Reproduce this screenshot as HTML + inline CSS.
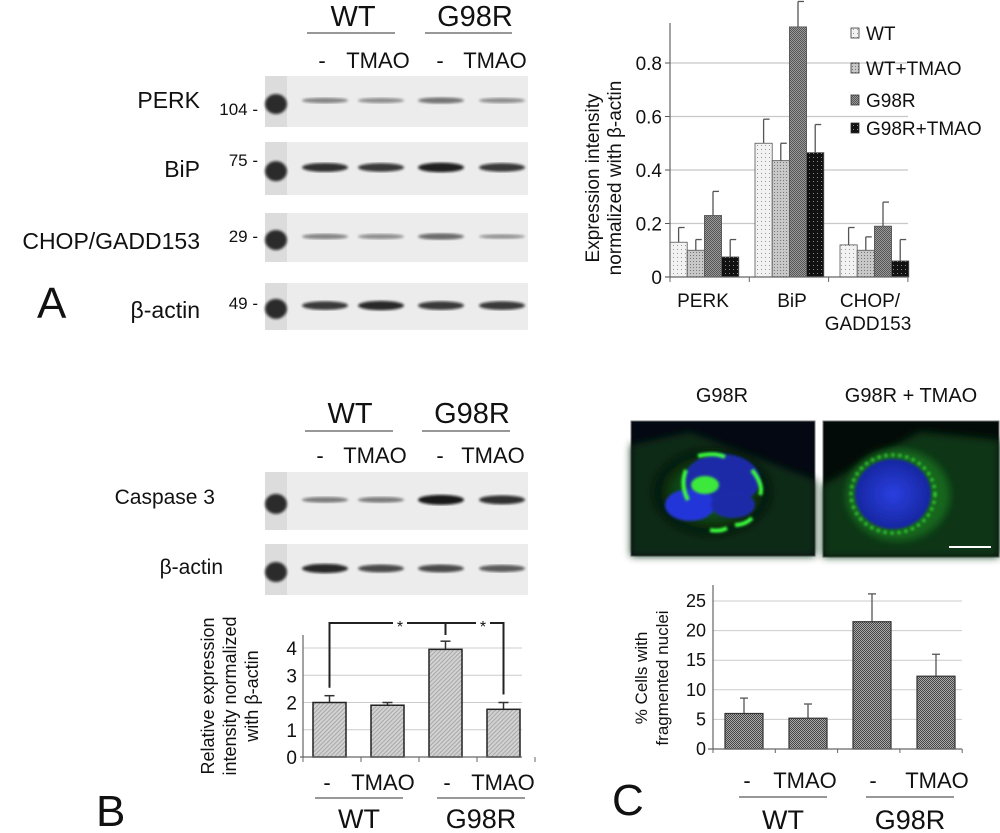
<!DOCTYPE html>
<html><head><meta charset="utf-8"><style>
html,body{margin:0;padding:0;background:#fff}
svg{display:block;font-family:"Liberation Sans",sans-serif}
</style></head><body>
<svg id="fig" width="1000" height="833" viewBox="0 0 1000 833" xmlns="http://www.w3.org/2000/svg">
<defs>
<pattern id="pWT" width="4" height="4" patternUnits="userSpaceOnUse"><rect width="4" height="4" fill="#f2f2f2"/><rect x="1" y="1" width="1" height="1" fill="#999"/></pattern>
<pattern id="pWTT" width="3" height="3" patternUnits="userSpaceOnUse"><rect width="3" height="3" fill="#c8c8c8"/><rect width="1" height="1" fill="#777"/></pattern>
<pattern id="pG" width="2" height="2" patternUnits="userSpaceOnUse"><rect width="2" height="2" fill="#999"/><rect width="1" height="1" fill="#555"/><rect x="1" y="1" width="1" height="1" fill="#555"/></pattern>
<pattern id="pGT" width="4" height="4" patternUnits="userSpaceOnUse"><rect width="4" height="4" fill="#111"/><rect x="1" y="1" width="1" height="1" fill="#888"/></pattern>
<pattern id="pB" width="3" height="3" patternUnits="userSpaceOnUse" patternTransform="rotate(45)"><rect width="3" height="3" fill="#d2d2d2"/><rect width="1" height="3" fill="#a8a8a8"/></pattern>
<pattern id="pC" width="2" height="2" patternUnits="userSpaceOnUse"><rect width="2" height="2" fill="#aaa"/><rect width="1" height="1" fill="#444"/><rect x="1" y="1" width="1" height="1" fill="#444"/></pattern>
<radialGradient id="nuc" cx="50%" cy="50%" r="50%"><stop offset="0" stop-color="#2a3fe0"/><stop offset="1" stop-color="#1626a0"/></radialGradient>
<radialGradient id="cyto" cx="50%" cy="50%" r="50%"><stop offset="0" stop-color="#1f7a1f"/><stop offset="0.7" stop-color="#0d3d12"/><stop offset="1" stop-color="#020b08"/></radialGradient>
<filter id="blur"><feGaussianBlur stdDeviation="1.3"/></filter>
<filter id="blur3"><feGaussianBlur stdDeviation="4"/></filter>
</defs>

<g font-size="22" fill="#111">
<text x="353" y="26" text-anchor="middle" font-size="29">WT</text>
<line x1="307" y1="33" x2="395" y2="33" stroke="#777" stroke-width="1.5"/>
<text x="475" y="26" text-anchor="middle" font-size="29">G98R</text>
<line x1="425" y1="33" x2="512" y2="33" stroke="#777" stroke-width="1.5"/>
<text x="322" y="68" text-anchor="middle">-</text><text x="378" y="68" text-anchor="middle">TMAO</text>
<text x="440" y="68" text-anchor="middle">-</text><text x="495" y="68" text-anchor="middle">TMAO</text>
<text x="200" y="108" text-anchor="end" font-size="23">PERK</text>
<text x="200" y="177" text-anchor="end" font-size="23">BiP</text>
<text x="200" y="249" text-anchor="end" font-size="23">CHOP/GADD153</text>
<text x="200" y="318" text-anchor="end" font-size="23">β-actin</text>
<text x="37" y="318" font-size="44">A</text>
<text x="258" y="115" text-anchor="end" font-size="17">104 -</text>
<text x="258" y="166" text-anchor="end" font-size="17">75 -</text>
<text x="258" y="242" text-anchor="end" font-size="17">29 -</text>
<text x="258" y="309" text-anchor="end" font-size="17">49 -</text>
</g>
<g id="blotsA"></g>
<g id="chartA"></g>

<g font-size="22" fill="#111">
<text x="350" y="423" text-anchor="middle" font-size="29">WT</text>
<line x1="305" y1="431" x2="393" y2="431" stroke="#777" stroke-width="1.5"/>
<text x="472" y="423" text-anchor="middle" font-size="29">G98R</text>
<line x1="422" y1="431" x2="510" y2="431" stroke="#777" stroke-width="1.5"/>
<text x="320" y="463" text-anchor="middle">-</text><text x="375" y="463" text-anchor="middle">TMAO</text>
<text x="440" y="463" text-anchor="middle">-</text><text x="493" y="463" text-anchor="middle">TMAO</text>
<text x="215" y="504" text-anchor="end" font-size="21">Caspase 3</text>
<text x="223" y="574" text-anchor="end" font-size="21">β-actin</text>
<text x="96" y="826" font-size="44">B</text>
</g>
<g id="blotsB"></g>
<g id="chartB"></g>

<g>
<text x="722" y="402" text-anchor="middle" font-size="20" fill="#111">G98R</text>
<text x="911" y="402" text-anchor="middle" font-size="20" fill="#111">G98R + TMAO</text>
<g>
<rect x="631" y="421" width="184" height="135" fill="#030812" stroke="#777"/>
<path d="M631 445 L690 432 L815 480 L815 556 L631 556 Z" fill="#0a2a12" filter="url(#blur3)"/>
<ellipse cx="712" cy="492" rx="58" ry="42" fill="url(#cyto)" filter="url(#blur3)"/>
<ellipse cx="722" cy="480" rx="38" ry="26" fill="#1a2ca8" filter="url(#blur)"/>
<ellipse cx="690" cy="505" rx="25" ry="16" fill="#2236d8" filter="url(#blur)"/>
<ellipse cx="733" cy="505" rx="22" ry="13" fill="#1a2ca8" filter="url(#blur)"/>
<path d="M698 456 Q715 452 725 457 M686 470 Q680 485 688 500 M752 470 Q764 485 760 495 M735 525 Q745 525 752 518 M710 530 Q720 532 727 528" stroke="#3cff3c" stroke-width="4" fill="none" filter="url(#blur)"/>
<ellipse cx="705" cy="485" rx="14" ry="9" fill="#3ce83c" filter="url(#blur)"/>
</g>
<g>
<rect x="823" y="421" width="176" height="136" fill="#030b08" stroke="#777"/>
<path d="M823 485 L920 432 L999 440 L999 557 L823 557 Z" fill="#0c3414" filter="url(#blur3)"/>
<ellipse cx="898" cy="495" rx="52" ry="46" fill="#19661e" filter="url(#blur3)"/>
<ellipse cx="893" cy="494" rx="38" ry="35" fill="url(#nuc)" filter="url(#blur)"/>
<ellipse cx="893" cy="494" rx="42" ry="39" fill="none" stroke="#36d836" stroke-width="3" stroke-dasharray="3 4" filter="url(#blur)"/>
<line x1="949" y1="547" x2="991" y2="547" stroke="#fff" stroke-width="2"/>
</g>
</g>
<g id="chartC"></g>
<g fill="#111">
<text x="612" y="815" font-size="44">C</text>
</g>
</svg>
<script>
const aCategories = ['PERK', 'BiP', 'CHOP'];
const aSeriesNames = ['WT', 'WT+TMAO', 'G98R', 'G98R+TMAO'];
const aWT = [0.13, 0.50, 0.12];
const aWTTMAO = [0.10, 0.435, 0.10];
const aG98R = [0.23, 0.935, 0.19];
const aG98RTMAO = [0.075, 0.465, 0.06];
const aWTErr = [0.055, 0.09, 0.065];
const aWTTMAOErr = [0.04, 0.065, 0.05];
const aG98RErr = [0.09, 0.095, 0.09];
const aG98RTMAOErr = [0.065, 0.105, 0.08];
const aTicks = [0, 0.2, 0.4, 0.6, 0.8];
const aTickLabels = ['0', '0.2', '0.4', '0.6', '0.8'];
const bCategories = ['WT -', 'WT TMAO', 'G98R -', 'G98R TMAO'];
const bValues = [2.0, 1.9, 3.95, 1.75];
const bErrors = [0.25, 0.1, 0.3, 0.25];
const bTicks = [0, 1, 2, 3, 4];
const cCategories = ['WT -', 'WT TMAO', 'G98R -', 'G98R TMAO'];
const cValues = [6.0, 5.2, 21.5, 12.3];
const cErrors = [2.6, 2.4, 4.7, 3.7];
const cTicks = [0, 5, 10, 15, 20, 25];
const blotRowsA = [[0.35, 0.3, 0.45, 0.3], [0.85, 0.8, 0.95, 0.8], [0.35, 0.3, 0.5, 0.25], [0.8, 0.9, 0.8, 0.8]];
const blotRowsB = [[0.4, 0.4, 1.0, 0.85], [0.9, 0.7, 0.7, 0.6]];

const NS = 'http://www.w3.org/2000/svg';
function mk(parent, tag, attrs, text) {
  const e = document.createElementNS(NS, tag);
  for (const k in attrs) e.setAttribute(k, attrs[k]);
  if (text !== undefined) e.textContent = text;
  parent.appendChild(e);
  return e;
}

function drawBlots(g, rows, tops, heights, lanes) {
  rows.forEach((row, r) => {
    const box = mk(g, 'rect', {x: 265, y: tops[r], width: 263, height: heights[r], fill: '#ececec'});
    
    
    mk(g, 'rect', {x: 265, y: tops[r], width: 22, height: heights[r], fill: '#dcdcdc'});
    mk(g, 'ellipse', {cx: 276, cy: tops[r] + heights[r] * 0.55, rx: 11, ry: 10, fill: '#111', opacity: 0.85, filter: 'url(#blur)'});
    row.forEach((v, i) => {
      const b = mk(g, 'ellipse', {cx: lanes[i], cy: tops[r] + heights[r] * 0.48, rx: 23, ry: 1.5 + v * 3.5, fill: '#111', opacity: 0.2 + v * 0.75, filter: 'url(#blur)'});
      
      
    });
  });
}
drawBlots(document.getElementById('blotsA'), blotRowsA, [76, 142, 213, 283], [51, 53, 49, 47], [325, 381, 441, 502]);
drawBlots(document.getElementById('blotsB'), blotRowsB, [472, 544], [58, 51], [325, 381, 441, 502]);

(function () {
  const g = document.getElementById('chartA');
  const y = v => 277 - v * 267.5;
  const x = (c, s) => 670 + c * 85 + s * 17.2;
  const bw = 17.2;
  aTicks.forEach((t, i) => {
    if (t > 0) mk(g, 'line', {x1: 670, x2: 908, y1: y(t), y2: y(t), stroke: '#c8c8c8', 'stroke-width': 1.2});
    const tl = mk(g, 'text', {x: 662, y: y(t) + 7, 'text-anchor': 'end', 'font-size': 19, fill: '#111'}, aTickLabels[i]);
    
    
    mk(g, 'line', {x1: 665, x2: 670, y1: y(t), y2: y(t), stroke: '#555'});
  });
  const series = [aWT, aWTTMAO, aG98R, aG98RTMAO];
  const errs = [aWTErr, aWTTMAOErr, aG98RErr, aG98RTMAOErr];
  const fills = ['url(#pWT)', 'url(#pWTT)', 'url(#pG)', 'url(#pGT)'];
  aCategories.forEach((c, ci) => {
    series.forEach((s, si) => {
      const xx = x(ci, si);
      const cx = xx + bw / 2;
      mk(g, 'line', {x1: cx, x2: cx, y1: y(s[ci]), y2: y(s[ci] + errs[si][ci]), stroke: '#555', 'stroke-width': 1.3});
      mk(g, 'line', {x1: cx, x2: cx + 6, y1: y(s[ci] + errs[si][ci]), y2: y(s[ci] + errs[si][ci]), stroke: '#555', 'stroke-width': 1.3});
      const r = mk(g, 'rect', {x: xx, y: y(s[ci]), width: bw, height: y(0) - y(s[ci]), fill: fills[si], stroke: '#555', 'stroke-width': 0.8});
      
      
    });
  });
  mk(g, 'line', {x1: 670, x2: 670, y1: 23, y2: 277, stroke: '#666', 'stroke-width': 1.2});
  mk(g, 'line', {x1: 665, x2: 908, y1: 277, y2: 277, stroke: '#666', 'stroke-width': 1.2});
  [0, 1, 2, 3].forEach(i => mk(g, 'line', {x1: 670 + i * 79.3, x2: 670 + i * 79.3, y1: 277, y2: 282, stroke: '#666'}));
  const xl = [['PERK', 703, 307], ['BiP', 792, 307], ['CHOP/', 870, 307], ['GADD153', 868, 330]];
  xl.forEach(l => {
    const t = mk(g, 'text', {x: l[1], y: l[2], 'text-anchor': 'middle', 'font-size': 19, fill: '#111'}, l[0]);
    
    
  });
  const yl = mk(g, 'text', {transform: 'translate(599,178) rotate(-90)', 'text-anchor': 'middle', 'font-size': 19, fill: '#111'});
  
  
  mk(yl, 'tspan', {x: 0, y: 0}, 'Expression intensity');
  mk(yl, 'tspan', {x: 0, y: 22}, 'normalized with β-actin');
  aSeriesNames.forEach((n, i) => {
    const ly = [33, 68, 100, 128][i];
    const le = mk(g, 'g', {});
    
    
    mk(le, 'rect', {x: 851, y: ly - 5, width: 8, height: 10, fill: fills[i], stroke: '#333', 'stroke-width': 0.8});
    mk(le, 'text', {x: 866, y: ly + 7, 'font-size': 19, fill: '#111'}, n);
  });
})();

(function () {
  const g = document.getElementById('chartB');
  const y = v => 757 - v * 27.25;
  const x = i => 313 + i * 58;
  const bw = 33;
  bTicks.forEach(t => {
    if (t > 0) mk(g, 'line', {x1: 303, x2: 522, y1: y(t), y2: y(t), stroke: '#ccc'});
    const tl = mk(g, 'text', {x: 297, y: y(t) + 7, 'text-anchor': 'end', 'font-size': 19, fill: '#111'}, String(t));
    
    
  });
  bValues.forEach((v, i) => {
    const cx = x(i) + bw / 2;
    mk(g, 'line', {x1: cx, x2: cx, y1: y(v), y2: y(v + bErrors[i]), stroke: '#333', 'stroke-width': 1.5});
    mk(g, 'line', {x1: cx - 5, x2: cx + 5, y1: y(v + bErrors[i]), y2: y(v + bErrors[i]), stroke: '#333', 'stroke-width': 1.5});
    const r = mk(g, 'rect', {x: x(i), y: y(v), width: bw, height: y(0) - y(v), fill: 'url(#pB)', stroke: '#222', 'stroke-width': 1.5});
    
    
  });
  mk(g, 'line', {x1: 303, x2: 303, y1: 635, y2: 757, stroke: '#666', 'stroke-width': 1.2});
  mk(g, 'line', {x1: 300, x2: 522, y1: 757, y2: 757, stroke: '#666', 'stroke-width': 1.2});
  [0, 1, 2, 3, 4].forEach(i => mk(g, 'line', {x1: 303 + i * 58, x2: 303 + i * 58, y1: 757, y2: 762, stroke: '#666'}));
  const c0 = x(0) + bw / 2, c2 = x(2) + bw / 2, c3 = x(3) + bw / 2;
  const br = mk(g, 'path', {d: `M${c0} ${y(bValues[0] + bErrors[0]) - 8} V623 H393 M407 623 H476 M490 623 H${c3} V${y(bValues[3] + bErrors[3]) - 8} M${c2} 623 V635`, stroke: '#222', 'stroke-width': 2, fill: 'none'});
  
  
  mk(g, 'text', {x: 400, y: 632, 'text-anchor': 'middle', 'font-size': 16, fill: '#111'}, '*');
  mk(g, 'text', {x: 483, y: 632, 'text-anchor': 'middle', 'font-size': 16, fill: '#111'}, '*');
  const yl = mk(g, 'text', {transform: 'translate(214,696) rotate(-90)', 'text-anchor': 'middle', 'font-size': 18, fill: '#111'});
  
  
  mk(yl, 'tspan', {x: 0, y: 0}, 'Relative expression');
  mk(yl, 'tspan', {x: 0, y: 22}, 'intensity normalized');
  mk(yl, 'tspan', {x: 0, y: 44}, 'with β-actin');
  [['-', 327], ['TMAO', 383], ['-', 447], ['TMAO', 503]].forEach(l => mk(g, 'text', {x: l[1], y: 790, 'text-anchor': 'middle', 'font-size': 22, fill: '#111'}, l[0]));
  mk(g, 'line', {x1: 315, x2: 403, y1: 798, y2: 798, stroke: '#777', 'stroke-width': 1.5});
  mk(g, 'line', {x1: 437, x2: 525, y1: 798, y2: 798, stroke: '#777', 'stroke-width': 1.5});
  mk(g, 'text', {x: 359, y: 828, 'text-anchor': 'middle', 'font-size': 27, fill: '#111'}, 'WT');
  mk(g, 'text', {x: 481, y: 828, 'text-anchor': 'middle', 'font-size': 27, fill: '#111'}, 'G98R');
})();

(function () {
  const g = document.getElementById('chartC');
  const y = v => 749 - v * 5.92;
  const x = i => 725 + i * 64;
  const bw = 38;
  cTicks.forEach(t => {
    if (t > 0) mk(g, 'line', {x1: 713, x2: 962, y1: y(t), y2: y(t), stroke: '#ccc'});
    const tl = mk(g, 'text', {x: 706, y: y(t) + 6, 'text-anchor': 'end', 'font-size': 18, fill: '#111'}, String(t));
    
    
  });
  cValues.forEach((v, i) => {
    const cx = x(i) + bw / 2;
    mk(g, 'line', {x1: cx, x2: cx, y1: y(v), y2: y(v + cErrors[i]), stroke: '#555', 'stroke-width': 1.3});
    mk(g, 'line', {x1: cx - 4, x2: cx + 4, y1: y(v + cErrors[i]), y2: y(v + cErrors[i]), stroke: '#555', 'stroke-width': 1.3});
    const r = mk(g, 'rect', {x: x(i), y: y(v), width: bw, height: y(0) - y(v), fill: 'url(#pC)', stroke: '#333', 'stroke-width': 1.2});
    
    
  });
  mk(g, 'line', {x1: 713, x2: 713, y1: 585, y2: 749, stroke: '#666', 'stroke-width': 1.2});
  mk(g, 'line', {x1: 708, x2: 962, y1: 749, y2: 749, stroke: '#666', 'stroke-width': 1.2});
  [0, 1, 2, 3, 4].forEach(i => mk(g, 'line', {x1: 713 + i * 62.3, x2: 713 + i * 62.3, y1: 749, y2: 753, stroke: '#666'}));
  const yl = mk(g, 'text', {transform: 'translate(647,678) rotate(-90)', 'text-anchor': 'middle', 'font-size': 17, fill: '#111'});
  
  
  mk(yl, 'tspan', {x: 0, y: 0}, '% Cells with');
  mk(yl, 'tspan', {x: 0, y: 21}, 'fragmented nuclei');
  [['-', 747], ['TMAO', 805], ['-', 873], ['TMAO', 937]].forEach(l => mk(g, 'text', {x: l[1], y: 788, 'text-anchor': 'middle', 'font-size': 22, fill: '#111'}, l[0]));
  mk(g, 'line', {x1: 739, x2: 827, y1: 797, y2: 797, stroke: '#777', 'stroke-width': 1.5});
  mk(g, 'line', {x1: 866, x2: 954, y1: 797, y2: 797, stroke: '#777', 'stroke-width': 1.5});
  mk(g, 'text', {x: 783, y: 829, 'text-anchor': 'middle', 'font-size': 27, fill: '#111'}, 'WT');
  mk(g, 'text', {x: 910, y: 829, 'text-anchor': 'middle', 'font-size': 27, fill: '#111'}, 'G98R');
})();
</script>
</body></html>
